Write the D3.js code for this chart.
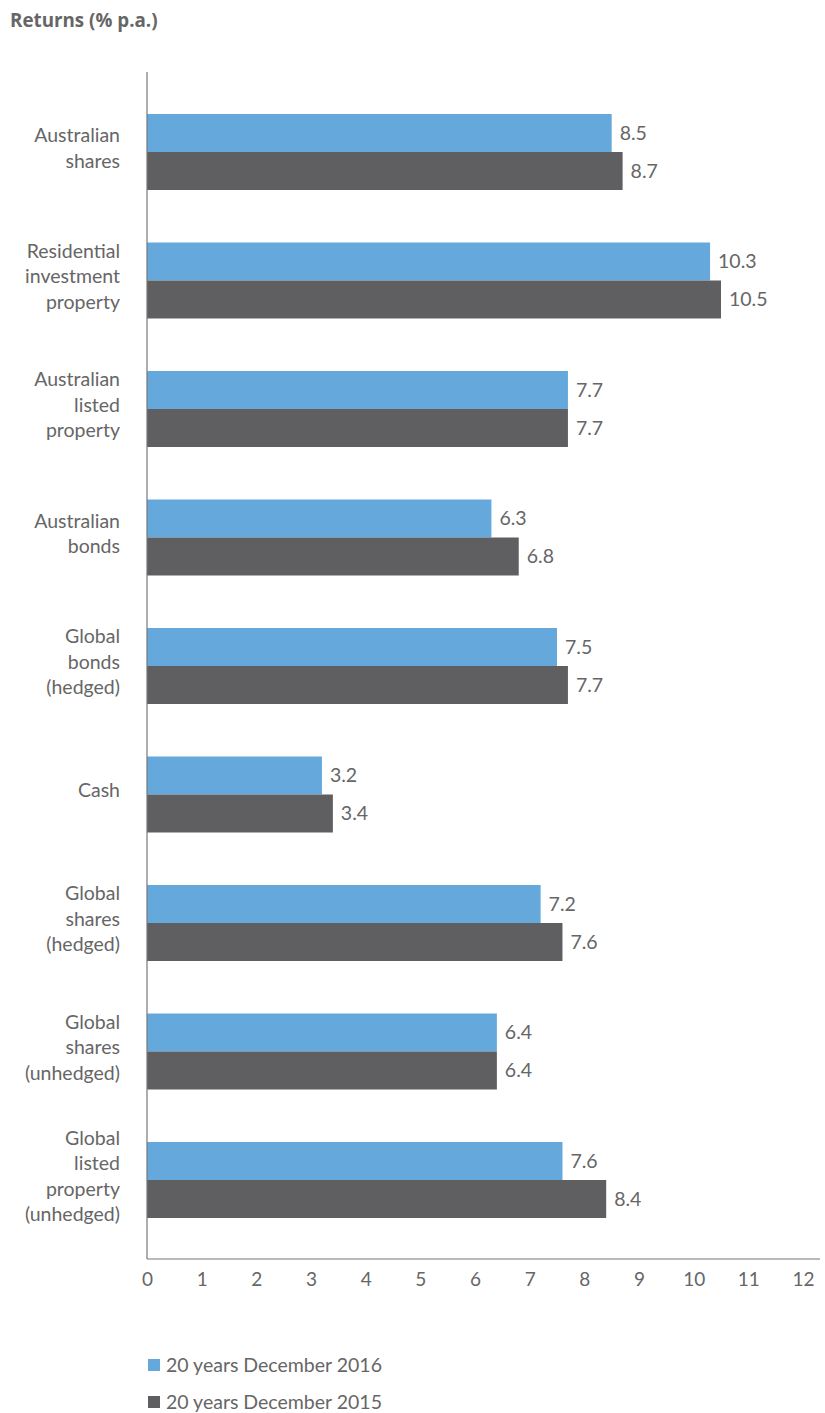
<!DOCTYPE html>
<html>
<head>
<meta charset="utf-8">
<script src="https://cdn.jsdelivr.net/npm/d3@7"></script>
<style>
  html, body { margin: 0; padding: 0; background: #fff; }
  svg { display: block; }
  text { font-family: Lato, "Open Sans", sans-serif; fill: #666; }
</style>
</head>
<body>
<svg id="chart" width="825" height="1413"></svg>
<script>
// Asset classes, top to bottom (lines of each label)
const categories = [
  ["Australian", "shares"],
  ["Residential", "investment", "property"],
  ["Australian", "listed", "property"],
  ["Australian", "bonds"],
  ["Global", "bonds", "(hedged)"],
  ["Cash"],
  ["Global", "shares", "(hedged)"],
  ["Global", "shares", "(unhedged)"],
  ["Global", "listed", "property", "(unhedged)"]
];
const seriesNames = ["20 years December 2016", "20 years December 2015"];
const returns2016 = [8.5, 10.3, 7.7, 6.3, 7.5, 3.2, 7.2, 6.4, 7.6];
const returns2015 = [8.7, 10.5, 7.7, 6.8, 7.7, 3.4, 7.6, 6.4, 8.4];
const xTicks = [0, 1, 2, 3, 4, 5, 6, 7, 8, 9, 10, 11, 12];
const colors = ["#64a8dc", "#5f5f62"];

const svg = d3.select("#chart");
const keys = categories.map(c => c.join(" "));

const x = d3.scaleLinear().domain([0, 12]).range([147, 803]);
const y = d3.scaleBand().domain(keys).range([87.75, 1244.25])
  .paddingInner(0.4086).paddingOuter(0.2043);
const ySub = d3.scaleBand().domain(seriesNames).range([0, y.bandwidth()]);

const rows = keys.map((k, i) => ({
  key: k,
  lines: categories[i],
  values: [returns2016[i], returns2015[i]]
}));

// Title
svg.append("text")
  .attr("x", 10).attr("y", 27)
  .style("font-family", "'Open Sans', sans-serif")
  .style("font-size", "18.8px").style("font-weight", "bold")
  .text("Returns (% p.a.)");

// Bars
const groups = svg.selectAll("g.row").data(rows).join("g")
  .attr("class", "row")
  .attr("transform", d => `translate(0,${y(d.key)})`);

groups.selectAll("rect").data(d => d.values.map((v, j) => ({ v, s: seriesNames[j], j })))
  .join("rect")
  .attr("x", x(0))
  .attr("y", d => ySub(d.s))
  .attr("width", d => x(d.v) - x(0))
  .attr("height", ySub.bandwidth())
  .attr("fill", d => colors[d.j]);

// Value labels
groups.selectAll("text.val").data(d => d.values.map((v, j) => ({ v, s: seriesNames[j] })))
  .join("text")
  .attr("class", "val")
  .attr("x", d => x(d.v) + 8)
  .attr("y", d => ySub(d.s) + ySub.bandwidth() / 2)
  .attr("dy", "0.35em")
  .style("font-size", "19.5px")
  .text(d => d3.format(".1f")(d.v));

// Category labels (multi-line, centred on the group)
const lineH = 25.5;
groups.each(function (d) {
  const n = d.lines.length;
  const t = d3.select(this).append("text")
    .attr("text-anchor", "end")
    .style("font-size", "19.5px");
  d.lines.forEach((ln, k) => {
    t.append("tspan")
      .attr("x", 120)
      .attr("y", y.bandwidth() / 2 - 4 + (k - (n - 1) / 2) * lineH)
      .attr("dy", "0.35em")
      .text(ln);
  });
});

// Axes
svg.append("line")
  .attr("x1", x(0)).attr("x2", x(0))
  .attr("y1", 72).attr("y2", 1259)
  .attr("stroke", "#777").attr("stroke-width", 1.2);

const xAxis = d3.axisBottom(x).tickValues(xTicks).tickSize(0).tickPadding(14)
  .tickFormat(d3.format("d"));
const gx = svg.append("g").attr("transform", "translate(0,1259)").call(xAxis);
gx.select(".domain").attr("d", "M147,0H820").attr("stroke", "#777").attr("stroke-width", 1.2);
gx.selectAll(".tick text")
  .style("font-family", "Lato, 'Open Sans', sans-serif")
  .style("font-size", "19px").attr("fill", "#666");

// Legend
const legend = svg.selectAll("g.leg").data(seriesNames).join("g")
  .attr("class", "leg")
  .attr("transform", (d, i) => `translate(148,${1359 + i * 37})`);
legend.append("rect").attr("width", 12).attr("height", 12)
  .attr("fill", (d, i) => colors[i]);
legend.append("text").attr("x", 18).attr("y", 6).attr("dy", "0.35em")
  .style("font-size", "19.5px").text(d => d);
</script>
</body>
</html>
